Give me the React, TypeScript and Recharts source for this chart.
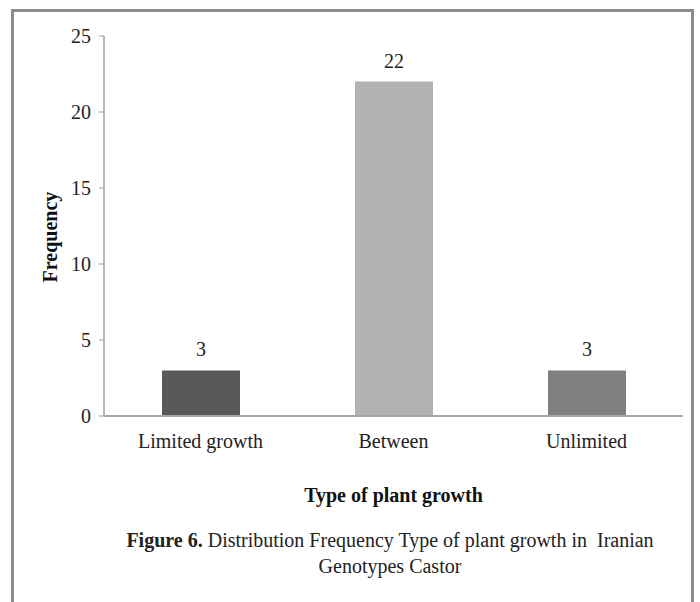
import React from 'react';
import { BarChart, Bar, XAxis, YAxis, Cell, LabelList, Label } from 'recharts';

const categories = ['Limited growth', 'Between', 'Unlimited'];
const frequencies = [3, 22, 3];
const barColors = ['#595959', '#b2b2b2', '#808080'];
const yTicks = [0, 5, 10, 15, 20, 25];

const data = categories.map((name, i) => ({ name, value: frequencies[i] }));

const FONT = '"Liberation Serif", "Times New Roman", serif';

const YTitle = (props: any) => {
  const vb = props.viewBox || { x: 0, y: 0, width: 0, height: 0 };
  const cx = vb.x + vb.width - 54;
  const cy = vb.y + vb.height / 2 + 11;
  return (
    <text x={cx} y={cy} transform={`rotate(-90, ${cx}, ${cy})`} textAnchor="middle" dominantBaseline="central"
      style={{ fill: '#111', fontSize: 20, fontWeight: 'bold', fontFamily: FONT }}>
      Frequency
    </text>
  );
};

export default function App() {
  return (
    <div style={{ position: 'absolute', left: 0, top: 0, width: 700, height: 602, background: '#fff', fontFamily: FONT }}>
      <div style={{ position: 'absolute', left: 11, top: 9, width: 683, height: 640, border: '3px solid #8c8c8c', borderBottom: 'none', boxSizing: 'border-box' }} />
      <div style={{ position: 'absolute', left: 0, top: 0 }}>
        <BarChart width={700} height={602} data={data} margin={{ top: 36, right: 17, bottom: 126, left: 30 }} barCategoryGap={57}>
          <XAxis dataKey="name" axisLine={{ stroke: '#a6a6a6', strokeWidth: 2 }} tickLine={false}
            tick={{ fill: '#222', fontSize: 20, fontFamily: FONT }} tickMargin={12} height={60}>
            <Label value="Type of plant growth" position="insideBottom" offset={-26}
              style={{ fill: '#111', fontSize: 20, fontWeight: 'bold', fontFamily: FONT }} />
          </XAxis>
          <YAxis domain={[0, 25]} ticks={yTicks} width={74} axisLine={{ stroke: '#b8b8b8', strokeWidth: 2 }}
            tickLine={{ stroke: '#999' }} tickSize={5} tickMargin={8}
            tick={{ fill: '#222', fontSize: 20, fontFamily: FONT }}>
            <Label content={YTitle} />
          </YAxis>
          <Bar dataKey="value" isAnimationActive={false} barSize={78}>
            {data.map((d, i) => (
              <Cell key={d.name} fill={barColors[i]} />
            ))}
            <LabelList dataKey="value" position="top" offset={14}
              style={{ fill: '#222', fontSize: 20, fontFamily: FONT }} />
          </Bar>
        </BarChart>
      </div>
      <div style={{ position: 'absolute', left: 90, top: 527, width: 600, textAlign: 'center', fontSize: 20, lineHeight: '26px', color: '#222', fontFamily: FONT }}>
        <b>Figure 6.</b> Distribution Frequency Type of plant growth in&nbsp; Iranian<br />Genotypes Castor
      </div>
    </div>
  );
}
